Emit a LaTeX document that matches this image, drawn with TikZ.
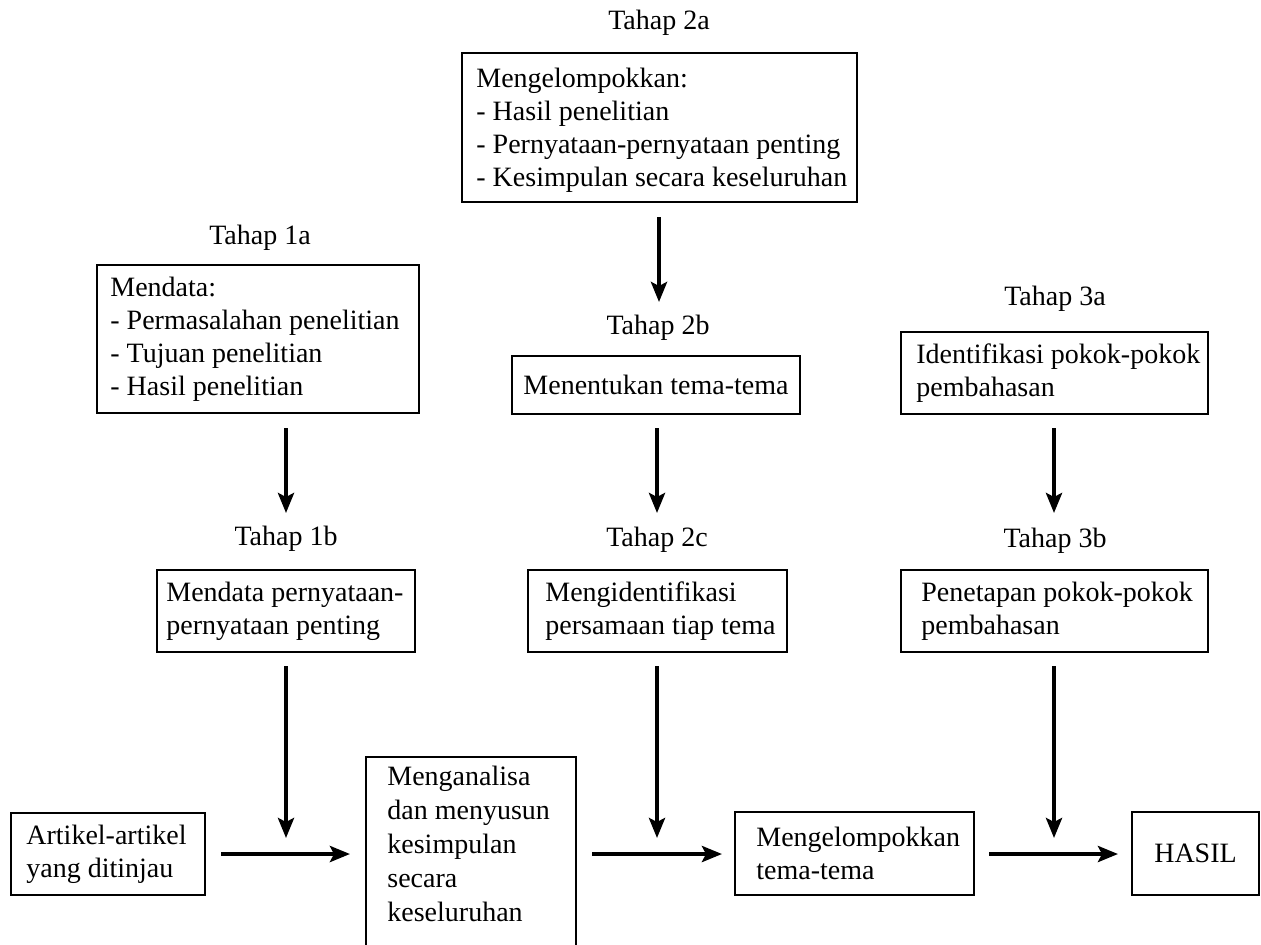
\documentclass[tikz,border=0pt]{standalone}
\usepackage{fontspec}
\setmainfont{Liberation Serif}
\usetikzlibrary{arrows.meta}
\begin{document}
\begin{tikzpicture}[x=0.5pt,y=-0.5pt,
  box/.style={draw, line width=1pt, inner sep=0pt},
  txt/.style={inner sep=0pt, align=left, anchor=west, font=\fontsize{14}{16.5}\selectfont},
  ctxt/.style={inner sep=0pt, align=center, font=\fontsize{14}{16.5}\selectfont},
  lbl/.style={inner sep=0pt, font=\fontsize{14}{16.5}\selectfont},
  arr/.style={line width=2pt, -{Stealth[length=10pt,width=8pt,inset=2pt]}}]
\useasboundingbox (0,0) rectangle (1261,944);

% boxes
\node[box, minimum width=197.5pt, minimum height=74.5pt] (b2a) at (659.5,127.5) {};
\node[box, minimum width=161pt, minimum height=74pt] (b1a) at (258,339) {};
\node[box, minimum width=144pt, minimum height=29pt] (b2b) at (656,385) {};
\node[box, minimum width=153.5pt, minimum height=41pt] (b3a) at (1054.5,373) {};
\node[box, minimum width=129pt, minimum height=41pt] (b1b) at (286,611) {};
\node[box, minimum width=129.5pt, minimum height=41pt] (b2c) at (657.5,611) {};
\node[box, minimum width=153.5pt, minimum height=41pt] (b3b) at (1054.5,611) {};
\node[box, minimum width=97pt, minimum height=41pt] (art) at (108,854) {};
\node[box, minimum width=105pt, minimum height=96.5pt] (ana) at (471,853.5) {};
\node[box, minimum width=119.5pt, minimum height=41.5pt] (grp) at (854.5,853.5) {};
\node[box, minimum width=63.5pt, minimum height=41.5pt] (hasil) at (1195.5,853.5) {};

% box texts
\node[txt] (t2a) at ([xshift=7.5pt,yshift=-1.5pt]b2a.west) {Mengelompokkan:\\- Hasil penelitian\\- Pernyataan-pernyataan penting\\- Kesimpulan secara keseluruhan};
\node[txt] (t1a) at ([xshift=7pt]b1a.west) {Mendata:\\- Permasalahan penelitian\\- Tujuan penelitian\\- Hasil penelitian};
\node[ctxt] (t2b) at (b2b.center) {Menentukan tema-tema};
\node[txt] (t3a) at ([xshift=8pt]b3a.west) {Identifikasi pokok-pokok\\pembahasan};
\node[txt] (t1b) at ([xshift=5pt]b1b.west) {Mendata pernyataan-\\pernyataan penting};
\node[txt] (t2c) at ([xshift=9pt]b2c.west) {Mengidentifikasi\\persamaan tiap tema};
\node[txt] (t3b) at ([xshift=10.5pt]b3b.west) {Penetapan pokok-pokok\\pembahasan};
\node[txt] (tart) at ([xshift=8pt]art.west) {Artikel-artikel\\yang ditinjau};
\node[txt, font=\fontsize{14}{17}\selectfont] (tana) at ([xshift=11pt,yshift=4.75pt]ana.west) {Menganalisa\\dan menyusun\\kesimpulan\\secara\\keseluruhan};
\node[txt] (tgrp) at ([xshift=11pt]grp.west) {Mengelompokkan\\tema-tema};
\node[ctxt] (thasil) at (hasil.center) {HASIL};

% stage labels
\node[lbl] (l2a) at (659,23) {Tahap 2a};
\node[lbl] (l1a) at (260,238) {Tahap 1a};
\node[lbl] (l2b) at (658,328) {Tahap 2b};
\node[lbl] (l3a) at (1055,299) {Tahap 3a};
\node[lbl] (l1b) at (286,539) {Tahap 1b};
\node[lbl] (l2c) at (657,540) {Tahap 2c};
\node[lbl] (l3b) at (1055,541) {Tahap 3b};

% arrow end points
\coordinate (a2aS) at (659,217); \coordinate (a2aE) at (659,302);
\coordinate (a1aS) at (286,428); \coordinate (a1aE) at (286,513);
\coordinate (a2bS) at (657,428); \coordinate (a2bE) at (657,513);
\coordinate (a3aS) at (1054,428); \coordinate (a3aE) at (1054,513);
\coordinate (a1bS) at (286,666); \coordinate (a1bE) at (286,838);
\coordinate (a2cS) at (657,666); \coordinate (a2cE) at (657,838);
\coordinate (a3bS) at (1054,666); \coordinate (a3bE) at (1054,838);
\coordinate (h1S) at (221,854); \coordinate (h1E) at (350,854);
\coordinate (h2S) at (592,854); \coordinate (h2E) at (722,854);
\coordinate (h3S) at (989,854); \coordinate (h3E) at (1118,854);

\draw[arr] (a2aS) -- (a2aE);
\draw[arr] (a1aS) -- (a1aE);
\draw[arr] (a2bS) -- (a2bE);
\draw[arr] (a3aS) -- (a3aE);
\draw[arr] (a1bS) -- (a1bE);
\draw[arr] (a2cS) -- (a2cE);
\draw[arr] (a3bS) -- (a3bE);
\draw[arr] (h1S) -- (h1E);
\draw[arr] (h2S) -- (h2E);
\draw[arr] (h3S) -- (h3E);
\end{tikzpicture}
\end{document}
